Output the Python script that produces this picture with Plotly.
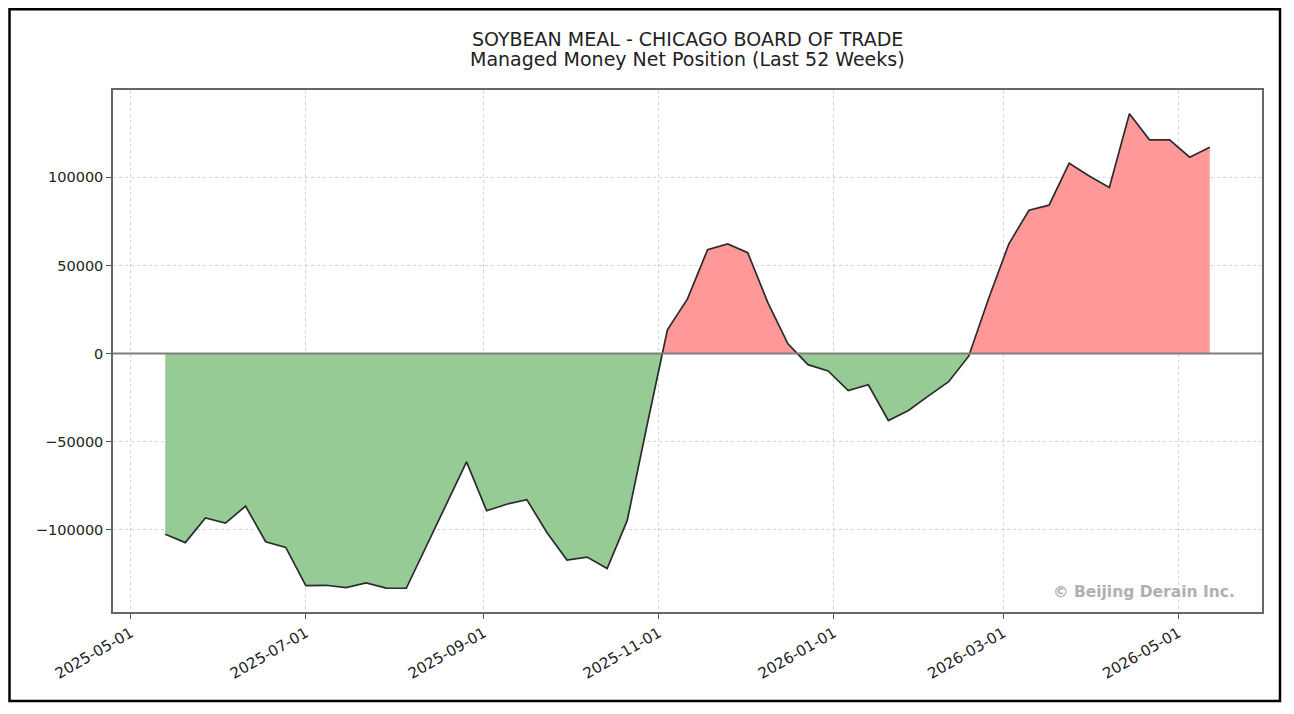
import pandas as pd
import numpy as np
import plotly.graph_objects as go

# Weekly COT report dates (Tuesdays) and managed money net position
dates = pd.date_range('2025-05-13', periods=53, freq='7D')
net_position = [
    -102500, -107300, -93300, -96200, -86600, -106800, -110000, -131700, -131500, -132800,
    -130200, -133100, -133200, -109000, -85300, -61500, -89200, -85500, -82900, -101500,
    -117200, -115500, -122000, -94700, -40000, 13500, 31000, 59000, 62200, 57200,
    28900, 5500, -6300, -9900, -21000, -17700, -38000, -32300, -24000, -16000,
    -1500, 31500, 62300, 81300, 84200, 108000, 100800, 94300, 136100, 121300,
    121300, 111400, 117100,
]
y_ticks = [-100000, -50000, 0, 50000, 100000]

title_line1 = 'SOYBEAN MEAL - CHICAGO BOARD OF TRADE'
title_line2 = 'Managed Money Net Position (Last 52 Weeks)'
watermark = '© Beijing Derain Inc.'

FONT = 'DejaVu Sans, sans-serif'

# page has an 8px body margin, so the figure is a bit smaller than the window
W, H = 1278, 698
L, R, T, B = 105, 24, 82, 94
PW, PH = W - L - R, H - T - B


def split_at_zero(x, y):
    # add the zero crossings so each sign gets its own closed fill
    xs = x.astype('int64').to_numpy()
    yv = np.asarray(y, dtype=float)
    out_x, out_y = [xs[0]], [yv[0]]
    for i in range(1, len(yv)):
        if yv[i - 1] * yv[i] < 0:
            t = yv[i - 1] / (yv[i - 1] - yv[i])
            out_x.append(xs[i - 1] + t * (xs[i] - xs[i - 1]))
            out_y.append(0.0)
        out_x.append(xs[i])
        out_y.append(yv[i])
    out_x = pd.to_datetime(np.array(out_x, dtype='int64'))
    out_y = np.array(out_y)
    return out_x, np.maximum(out_y, 0), np.minimum(out_y, 0)


fx, pos, neg = split_at_zero(dates, net_position)

fig = go.Figure()
fig.add_trace(go.Scatter(x=fx, y=neg, mode='lines', line=dict(width=0),
                         fill='tozeroy', fillcolor='#96cb96', hoverinfo='skip'))
fig.add_trace(go.Scatter(x=fx, y=pos, mode='lines', line=dict(width=0),
                         fill='tozeroy', fillcolor='#ff9999', hoverinfo='skip'))
fig.add_trace(go.Scatter(x=dates, y=net_position, mode='lines',
                         line=dict(color='#2b2b2b', width=1.7),
                         hovertemplate='%{x|%Y-%m-%d}<br>%{y:,}<extra></extra>'))

# zero line on top of the fills
fig.add_hline(y=0, line_color='#7f7f7f', line_width=2, layer='above')

# matplotlib style 5% margins
span = dates[-1] - dates[0]
x_range = [dates[0] - span * 0.05, dates[-1] + span * 0.05]
ymin, ymax = min(net_position), max(net_position)
pad = (ymax - ymin) * 0.05
y_range = [ymin - pad, ymax + pad]

fig.update_xaxes(
    type='date', range=x_range,
    tick0='2025-05-01', dtick='M2', tickformat='%Y-%m-%d', tickangle=-30,
    ticks='outside', ticklen=5, tickcolor='#555555',
    showgrid=True, gridcolor='#d4d4d4', griddash='dot', gridwidth=1,
    showline=True, linecolor='#666666', linewidth=1.5, mirror=True,
    zeroline=False, tickfont=dict(size=15, color='#222222'),
)
fig.update_yaxes(
    range=y_range, tickvals=y_ticks, ticktext=[f'{v}'.replace('-', '\u2212') for v in y_ticks],
    ticks='outside', ticklen=5, tickcolor='#555555',
    showgrid=True, gridcolor='#d4d4d4', griddash='dot', gridwidth=1,
    showline=True, linecolor='#666666', linewidth=1.5, mirror=True,
    zeroline=False, tickfont=dict(size=14.5, color='#222222'),
)

# two-line title, placed like the matplotlib suptitle
fig.add_annotation(text=title_line1, xref='paper', yref='paper',
                   x=0.5, y=(PH + T - 31) / PH, xanchor='center', yanchor='middle',
                   showarrow=False, font=dict(family=FONT, size=19, color='#222222'))
fig.add_annotation(text=title_line2, xref='paper', yref='paper',
                   x=0.5, y=(PH + T - 51) / PH, xanchor='center', yanchor='middle',
                   showarrow=False, font=dict(family=FONT, size=19, color='#222222'))

fig.add_annotation(text=watermark, xref='paper', yref='paper', x=0.978, y=0.038,
                   xanchor='right', yanchor='middle', showarrow=False,
                   font=dict(family=FONT, size=15.5, color='#b0b0b0', weight='bold'))

# outer frame of the figure
fig.add_shape(type='rect', xref='paper', yref='paper',
              x0=(1.5 - L) / PW, x1=(1272 - L) / PW,
              y0=(PH + T - 693) / PH, y1=(PH + T - 1.2) / PH,
              line=dict(color='black', width=2.5), layer='above')

fig.update_layout(
    width=W, height=H,
    margin=dict(l=L, r=R, t=T, b=B),
    font=dict(family=FONT),
    showlegend=False,
    plot_bgcolor='white', paper_bgcolor='white',
)

fig.write_html('out.html')
